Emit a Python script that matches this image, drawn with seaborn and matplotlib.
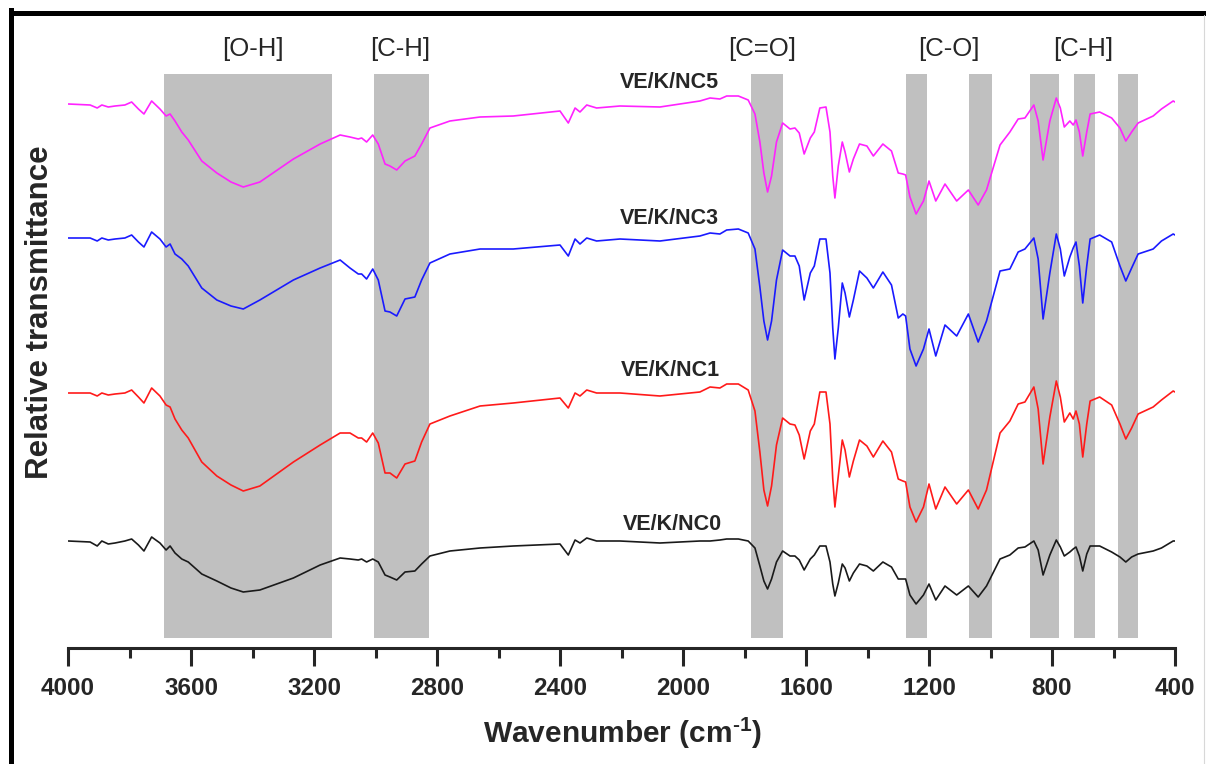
import matplotlib
matplotlib.use("Agg")
import matplotlib.pyplot as plt
from matplotlib.lines import Line2D
import seaborn as sns
import pandas as pd
import numpy as np

# ---------------- data ----------------
wavenumber = [
    3999, 3928, 3905, 3890, 3869, 3847, 3815, 3793, 3771, 3753, 3728, 3701, 3681, 3668, 3652,
    3630, 3609, 3565, 3516, 3470, 3430, 3376, 3267, 3180, 3115,
    3083, 3056, 3045, 3029, 3009, 2991, 2969, 2953, 2931, 2904, 2872, 2850, 2823, 2758, 2660,
    2552, 2400, 2373, 2351, 2335, 2313, 2281, 2205,
    2075, 1945, 1912, 1880, 1858, 1820, 1788, 1766, 1750, 1737, 1725, 1712, 1696, 1676, 1652,
    1636, 1622, 1606, 1586, 1573, 1555, 1535, 1522, 1513, 1506, 1495, 1482, 1473, 1459, 1446,
    1426, 1402, 1381, 1350, 1322, 1300,
    1285, 1276, 1262, 1242, 1218, 1200, 1178, 1148, 1110, 1072, 1040, 1013, 969, 937, 910,
    888, 859, 845, 829, 807, 786, 773, 760, 742, 731, 722, 711, 700, 687, 676, 645, 606, 579,
    560, 541, 520, 471, 444, 406, 400,
]

nc5 = [
    544, 543, 540, 543, 541, 542, 543, 546, 539, 534, 547, 539, 532, 534, 527, 516, 508, 487, 475, 466, 461, 466, 489, 504, 513,
    511, 509, 510, 506, 513, 504, 484, 482, 478, 487, 492, 504, 520, 527, 531, 532, 537, 525, 540, 536, 543, 540, 542,
    541, 547, 550, 549, 552, 552, 548, 534, 506, 475, 456, 472, 506, 525, 519, 520, 515, 494, 510, 516,
    540, 541, 516, 472, 450, 482, 506, 496, 476, 489, 504, 502, 492, 504, 497, 475,
    474, 473, 451, 434, 447, 467, 447, 464, 447, 458, 443, 458, 503, 516, 529, 530, 543, 527, 488, 527,
    550, 540, 521, 527, 523, 528, 516, 492, 516, 534, 536, 530, 520, 507, 516, 525, 532, 539, 547, 546,
]
nc3 = [
    410, 410, 407, 410, 408, 409, 410, 413, 406, 401, 416, 409, 401, 404, 394, 389, 382, 360, 348, 342, 339, 348, 368, 380, 388,
    380, 374, 374, 369, 379, 368, 337, 336, 332, 349, 351, 368, 385, 394, 399, 399, 403, 392, 409, 404, 410, 407, 409,
    407, 412, 415, 414, 418, 419, 415, 399, 361, 327, 308, 327, 368, 398, 392, 392, 382, 348, 375, 382,
    409, 409, 375, 320, 289, 320, 365, 355, 331, 348, 377, 370, 360, 376, 363, 330,
    334, 332, 299, 282, 299, 319, 292, 323, 312, 334, 306, 327, 377, 379, 396, 399, 410, 389, 329, 375,
    414, 399, 372, 391, 400, 406, 382, 345, 382, 409, 413, 406, 382, 367, 380, 394, 399, 407, 414, 413,
]
nc1 = [
    255, 255, 252, 255, 253, 254, 255, 258, 251, 245, 260, 252, 243, 241, 229, 218, 210, 186, 172, 163, 157, 162, 186, 203, 215,
    215, 210, 210, 206, 215, 205, 175, 175, 170, 184, 187, 206, 224, 232, 242, 245, 250, 240, 255, 252, 258, 255, 255,
    252, 256, 261, 260, 264, 264, 258, 237, 196, 158, 142, 162, 203, 230, 224, 223, 213, 189, 217, 224,
    256, 256, 224, 169, 141, 172, 208, 198, 171, 187, 208, 202, 191, 207, 196, 169,
    167, 166, 141, 126, 141, 164, 139, 161, 144, 158, 139, 158, 215, 227, 244, 246, 261, 239, 184, 231,
    267, 251, 226, 235, 229, 237, 224, 191, 224, 247, 251, 243, 224, 209, 220, 234, 241, 248, 257, 256,
]
nc0 = [
    107, 106, 102, 107, 104, 105, 107, 109, 103, 97, 111, 105, 98, 102, 95, 89, 86, 74, 67, 60, 56, 58, 70, 83, 90,
    89, 88, 89, 86, 89, 86, 73, 71, 68, 76, 77, 84, 92, 97, 100, 102, 104, 93, 108, 105, 110, 107, 107,
    105, 107, 107, 108, 109, 109, 107, 100, 82, 67, 59, 69, 86, 97, 92, 92, 88, 78, 89, 93,
    102, 102, 86, 64, 52, 65, 84, 80, 67, 75, 84, 82, 77, 86, 81, 69,
    69, 69, 53, 44, 53, 64, 48, 62, 53, 62, 51, 62, 89, 93, 100, 101, 107, 98, 73, 93,
    108, 101, 92, 96, 99, 101, 92, 77, 94, 102, 102, 96, 91, 86, 91, 94, 97, 100, 107, 107,
]

sample_names = ["VE/K/NC5", "VE/K/NC3", "VE/K/NC1", "VE/K/NC0"]
sample_colors = ["#FF22FF", "#1A1AFF", "#FF1A1A", "#1A1A1A"]
label_pos = [(2045, 566), (2045, 430), (2042, 278), (2036, 123)]

band_ranges = [(3688, 3142), (3005, 2827), (1779, 1674), (1274, 1206), (1069, 994),
               (872, 777), (730, 661), (586, 521)]
band_labels = ["[O-H]", "[C-H]", "[C=O]", "[C-O]", "[C-H]"]
band_label_x = [3400, 2920, 1743, 1135, 699]

x_major = [4000, 3600, 3200, 2800, 2400, 2000, 1600, 1200, 800, 400]
x_minor = [3800, 3400, 3000, 2600, 2200, 1800, 1400, 1000, 600]

# ---------------- style ----------------
sns.set_style("ticks")
plt.rcParams["font.family"] = ["Liberation Sans", "DejaVu Sans"]
plt.rcParams["mathtext.fontset"] = "custom"
plt.rcParams["mathtext.rm"] = "Liberation Sans:bold"
plt.rcParams["mathtext.bf"] = "Liberation Sans:bold"

W, H = 1206, 764
fig = plt.figure(figsize=(W / 100, H / 100), dpi=100)
ax_bottom_px, ax_top_px = 648, 12
ax = fig.add_axes([68 / W, (H - ax_bottom_px) / H, (1175 - 68) / W, (ax_bottom_px - ax_top_px) / H])

series = [nc5, nc3, nc1, nc0]
frames = []
for name, vals in zip(sample_names, series):
    assert len(vals) == len(wavenumber), (name, len(vals))
    frames.append(pd.DataFrame({"wn": wavenumber, "val": vals, "sample": name}))
df = pd.concat(frames, ignore_index=True)

# bands
ymax_data = ax_bottom_px - ax_top_px
for hi, lo in band_ranges:
    ax.axvspan(lo, hi, ymin=10 / ymax_data, ymax=574 / ymax_data, color="#c0c0c0", lw=0, zorder=0)

sns.lineplot(data=df, x="wn", y="val", hue="sample", hue_order=sample_names,
             palette=sample_colors, estimator=None, sort=False, legend=False,
             linewidth=1.2, ax=ax, zorder=3)

ax.set_xlim(4000, 400)
ax.set_ylim(0, ymax_data)

for name, (xp, yp) in zip(sample_names, label_pos):
    ax.text(xp, yp, name, ha="center", va="center", fontsize=15.5, fontweight="bold", zorder=4)

for lbl, xp in zip(band_labels, band_label_x):
    ax.text(xp, ax_bottom_px - 49, lbl, ha="center", va="center", fontsize=18.5, clip_on=False)

# axes styling
for s in ["left", "right", "top"]:
    ax.spines[s].set_visible(False)
ax.spines["bottom"].set_linewidth(2.2)
ax.set_yticks([])
ax.set_xticks(x_major)
ax.set_xticks(x_minor, minor=True)
ax.set_xticklabels([str(v) for v in x_major], fontweight="bold")
ax.tick_params(axis="x", which="major", direction="out", length=13, width=2.2,
               labelsize=17.5, pad=8, bottom=True)
ax.tick_params(axis="x", which="minor", direction="out", length=7, width=2.2, bottom=True)
ax.set_xlabel("")
ax.set_ylabel("")

fig.text(623 / W, 1 - 733 / H, r"Wavenumber (cm$^{\text{-1}}$)", ha="center", va="center",
         fontsize=21.5, fontweight="bold")
fig.text(40 / W, 1 - 312 / H, "Relative transmittance", rotation=90, ha="center", va="center",
         fontsize=22.5, fontweight="bold")

# outer frame (left and top thick borders)
fig.add_artist(Line2D([10.5 / W, 10.5 / W], [0, 1 - 10 / H], transform=fig.transFigure,
                      color="black", lw=3.6, solid_capstyle="projecting"))
fig.add_artist(Line2D([10.5 / W, 1], [1 - 12.5 / H, 1 - 12.5 / H], transform=fig.transFigure,
                      color="black", lw=3.6, solid_capstyle="projecting"))
fig.add_artist(Line2D([1203.5 / W, 1203.5 / W], [0, 1 - 15 / H], transform=fig.transFigure,
                      color="#d8d8d8", lw=0.8))

fig.savefig("out.png", dpi=100)
